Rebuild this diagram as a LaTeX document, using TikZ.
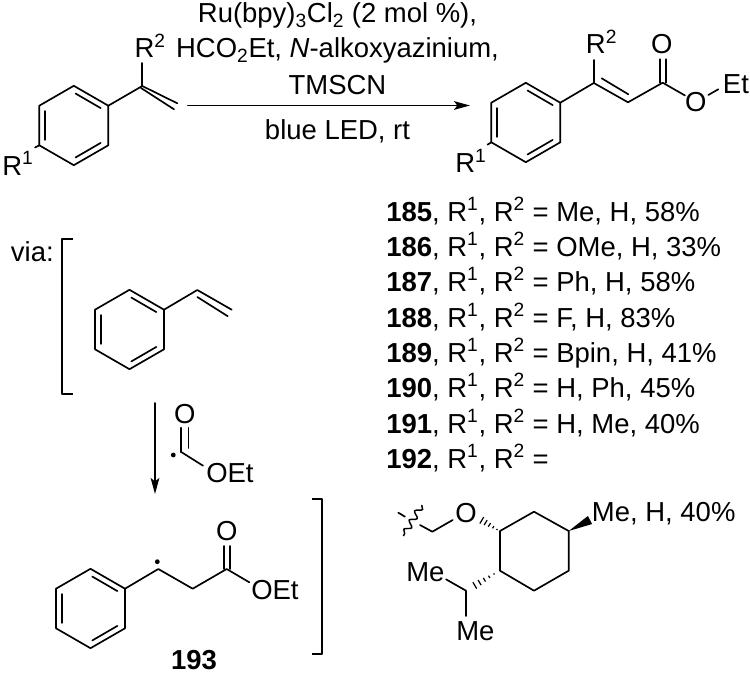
\documentclass[tikz,border=0pt]{standalone}
\usepackage{fontspec}
\setmainfont{Liberation Sans}
\usetikzlibrary{calc,arrows.meta,decorations.pathmorphing}
\tikzset{
  bond/.style={line width=1.25pt,line cap=round,line join=round},
  lab/.style={inner sep=0pt,anchor=base,font=\fontsize{20.6}{22}\selectfont},
  labw/.style={lab,anchor=base west},
  radical/.style={circle,fill=black,inner sep=0pt,minimum size=3.6pt},
  phring/.pic={
    \coordinate (-a) at (0,-39.7);
    \coordinate (-b) at (34.5,-19.8);
    \coordinate (-c) at (34.5,19.8);
    \coordinate (-d) at (0,39.7);
    \coordinate (-e) at (-34.5,19.8);
    \coordinate (-f) at (-34.5,-19.8);
    \draw[bond] (-a) -- (-b) -- (-c) -- (-d) -- (-e) -- (-f) -- cycle;
    \draw[bond,shorten <=1.5pt,shorten >=1.5pt] (0,-33) -- (28.6,-16.4);
    \draw[bond,shorten <=1.5pt,shorten >=1.5pt] (28.6,16.4) -- (0,33);
    \draw[bond,shorten <=1.5pt,shorten >=1.5pt] (-28.6,16.4) -- (-28.6,-16.4);
  }
}
% hashed bond, thin end at #1
\newcommand{\hashbond}[2]{
  \foreach \t/\w in {0/0.5,0.2/1,0.4/1.6,0.6/2.2,0.8/2.8,1/3.4}
    \draw[line width=0.9pt] ($(#1)!\t!(#2)!\w pt!90:(#2)$) -- ($(#1)!\t!(#2)!\w pt!-90:(#2)$);
}
\begin{document}
\begin{tikzpicture}[x=0.75pt,y=-0.75pt,>={Stealth[length=12pt,width=6.5pt,inset=2.5pt]}]
\useasboundingbox (0,0) rectangle (750,674);

% styrene
\pic (sm) at (73.8,125.5) {phring};
\coordinate (sm_c) at (142.3,86);
\coordinate (sm_ch) at (177.3,103.3);
\coordinate (sm_in1) at (141,88);
\coordinate (sm_in2) at (174,109.3);
\coordinate (sm_r2) at (142.3,63);
\coordinate (sm_r1) at (35,147.5);
\draw[bond] (sm-b) -- (sm_c) -- (sm_ch);
\draw[bond] (sm_in1) -- (sm_in2);
\draw[bond] (sm_c) -- (sm_r2);
\draw[bond] (sm-e) -- (sm_r1);
\node[labw] (r2a) at (134.3,58) {R\textsuperscript{2}};
\node[labw] (r1a) at (2,175) {R\textsuperscript{1}};

% reagents
\node[lab] (ru) at (337.5,23) {Ru(bpy)\textsubscript{3}Cl\textsubscript{2} (2 mol \%),};
\node[lab] (hco) at (337.5,58) {HCO\textsubscript{2}Et, \textit{N}-alkoxyazinium,};
\node[lab] (tms) at (337.5,94.3) {TMSCN};
\node[lab] (led) at (337.5,139.3) {blue LED, rt};
\coordinate (ar_s) at (187.7,105.5);
\coordinate (ar_e) at (470,105.5);
\draw[bond,->] (ar_s) -- (ar_e);

% product
\pic (pr) at (525.8,122.5) {phring};
\coordinate (pr_c) at (593.8,83);
\coordinate (pr_ch) at (628,102.3);
\coordinate (pr_co) at (662.7,82.7);
\coordinate (pr_in1) at (601.7,78.3);
\coordinate (pr_in2) at (628.3,94.3);
\draw[bond] (pr-b) -- (pr_c) -- (pr_ch) -- (pr_co);
\draw[bond] (pr_in1) -- (pr_in2);
\coordinate (pr_r2) at (593.8,60);
\coordinate (pr_r1) at (487.5,144.7);
\draw[bond] (pr_c) -- (pr_r2);
\draw[bond] (pr-e) -- (pr_r1);
\node[labw] (r2b) at (585.7,53.3) {R\textsuperscript{2}};
\node[labw] (r1b) at (455,172.5) {R\textsuperscript{1}};
\node[lab] (o1) at (661.7,54) {O};
\node[lab] (o2) at (695.7,111.7) {O};
\node[labw] (et1) at (722.7,93.3) {Et};
\draw[bond] ($(pr_co)+(-3,0)$) -- ($(pr_co)+(-3,-23.5)$);
\draw[bond] ($(pr_co)+(3,0)$) -- ($(pr_co)+(3,-23.5)$);
\coordinate (pr_o) at (685,95.5);
\coordinate (pr_oa) at (708.3,95);
\coordinate (pr_ob) at (718.3,89.3);
\draw[bond] (pr_co) -- (pr_o);
\draw[bond] (pr_oa) -- (pr_ob);

% compound list
\foreach \n/\r/\y in {185/{Me, H, 58\%}/221,186/{OMe, H, 33\%}/256,187/{Ph, H, 58\%}/291,188/{F, H, 83\%}/327,189/{Bpin, H, 41\%}/362,190/{H, Ph, 45\%}/397,191/{H, Me, 40\%}/433}
  \node[labw] (c\n) at (386,\y) {\textbf{\n}, R\textsuperscript{1}, R\textsuperscript{2} = \r};
\node[labw] (c192) at (386,468) {\textbf{192}, R\textsuperscript{1}, R\textsuperscript{2} =};

% menthyl
\coordinate (m1) at (500,531);
\coordinate (m2) at (534,511.7);
\coordinate (m3) at (568.7,531);
\coordinate (m4) at (568.7,570.7);
\coordinate (m5) at (534,590.7);
\coordinate (m6) at (500,570.7);
\draw[bond] (m1) -- (m2) -- (m3) -- (m4) -- (m5) -- (m6) -- cycle;
\node[lab] (mo) at (466,522.7) {O};
\node[labw] (mme) at (591.7,521) {Me, H, 40\%};
\node[labw] (ipr1) at (406,581.7) {Me};
\node[labw] (ipr2) at (456,640) {Me};
\coordinate (mch2) at (432.3,531.7);
\coordinate (mo_r) at (452.7,520);
\coordinate (mcut) at (420,525);
\coordinate (mt1) at (405,516.7);
\coordinate (mt2) at (398.3,512.7);
\coordinate (mw1) at (421.7,505);
\coordinate (mw2) at (403.3,536);
\draw[bond] (mo_r) -- (mch2) -- (mcut);
\draw[bond] (mt1) -- (mt2);
\draw[line width=1.1pt,decorate,decoration={snake,amplitude=2.3pt,segment length=8pt}] (mw1) -- (mw2);
\coordinate (mh1) at (497,529.5);
\coordinate (mh2) at (478,518);
\hashbond{mh1}{mh2}
\coordinate (mwe) at (590,520);
\fill (m3) -- ($(mwe)!3.4pt!90:(m3)$) -- ($(mwe)!3.4pt!-90:(m3)$) -- cycle;
\coordinate (ip) at (466,590.7);
\coordinate (ip1) at (446,579.3);
\coordinate (ip2) at (466,616);
\draw[bond] (ip1) -- (ip) -- (ip2);
\coordinate (mh3) at (494,574);
\coordinate (mh4) at (470,588.3);
\hashbond{mh3}{mh4}

% via
\node[labw] (via) at (10.7,261.7) {via:};
\coordinate (bl1) at (72.7,239.3);
\coordinate (bl2) at (62.3,239.3);
\coordinate (bl3) at (62.3,394);
\coordinate (bl4) at (72.7,394);
\draw[bond,line cap=butt] (bl1) -- (bl2) -- (bl3) -- (bl4);
\pic (vs) at (129.5,329.5) {phring};
\coordinate (vs_c) at (197.3,290);
\coordinate (vs_ch) at (231.7,309.7);
\draw[bond] (vs-b) -- (vs_c) -- (vs_ch);
\draw[bond] ($(vs_c)+(0,7)$) -- ($(vs_ch)+(-4,6.5)$);

% step arrow
\coordinate (st_s) at (155,403);
\coordinate (st_e) at (155,494);
\draw[bond,->] (st_s) -- (st_e);
\coordinate (fc) at (181.7,452.3);
\node[radical] (fdot) at (173.3,455) {};
\node[lab] (fo) at (184.7,423.3) {O};
\node[labw] (foet) at (206,482.7) {OEt};
\coordinate (fcb) at (203,465.7);
\draw[bond] (fc) -- (fcb);
\draw[bond] (181.3,452.3) -- (181.3,427.7);
\draw[bond] (188.5,448) -- (188.5,427.7);

% radical 193
\pic (ra) at (90.5,608.5) {phring};
\coordinate (ra_c) at (158.3,569);
\coordinate (ra_ch) at (192.7,588.7);
\coordinate (ra_co) at (226.7,569);
\coordinate (ra_o) at (249.3,582.3);
\draw[bond] (ra-b) -- (ra_c) -- (ra_ch) -- (ra_co) -- (ra_o);
\node[radical] (rdot) at (157.3,561.7) {};
\draw[bond] ($(ra_co)+(-3,0)$) -- ($(ra_co)+(-3,-23)$);
\draw[bond] ($(ra_co)+(3,0)$) -- ($(ra_co)+(3,-23)$);
\node[lab] (ro) at (226.7,540) {O};
\node[labw] (roet) at (251,599) {OEt};
\node[lab] (n193) at (194,669) {\textbf{193}};
\coordinate (br1) at (311.7,499);
\coordinate (br2) at (322.3,499);
\coordinate (br3) at (322.3,653.7);
\coordinate (br4) at (311.7,653.7);
\draw[bond,line cap=butt] (br1) -- (br2) -- (br3) -- (br4);
\end{tikzpicture}
\end{document}
